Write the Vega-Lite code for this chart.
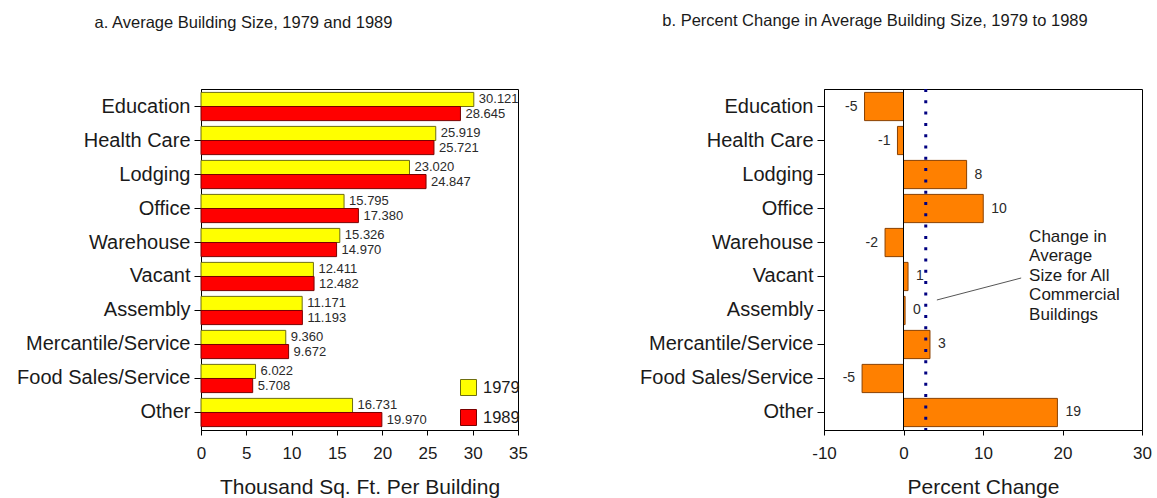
{
  "$schema": "https://vega.github.io/schema/vega-lite/v6.json",
  "padding": {"left": 16, "top": 12, "right": 0, "bottom": 0},
  "spacing": 111,
  "datasets": {
    "sizes": [
      {"cat": "Education", "year": "1979", "value": 30.121},
      {"cat": "Education", "year": "1989", "value": 28.645},
      {"cat": "Health Care", "year": "1979", "value": 25.919},
      {"cat": "Health Care", "year": "1989", "value": 25.721},
      {"cat": "Lodging", "year": "1979", "value": 23.020},
      {"cat": "Lodging", "year": "1989", "value": 24.847},
      {"cat": "Office", "year": "1979", "value": 15.795},
      {"cat": "Office", "year": "1989", "value": 17.380},
      {"cat": "Warehouse", "year": "1979", "value": 15.326},
      {"cat": "Warehouse", "year": "1989", "value": 14.970},
      {"cat": "Vacant", "year": "1979", "value": 12.411},
      {"cat": "Vacant", "year": "1989", "value": 12.482},
      {"cat": "Assembly", "year": "1979", "value": 11.171},
      {"cat": "Assembly", "year": "1989", "value": 11.193},
      {"cat": "Mercantile/Service", "year": "1979", "value": 9.360},
      {"cat": "Mercantile/Service", "year": "1989", "value": 9.672},
      {"cat": "Food Sales/Service", "year": "1979", "value": 6.022},
      {"cat": "Food Sales/Service", "year": "1989", "value": 5.708},
      {"cat": "Other", "year": "1979", "value": 16.731},
      {"cat": "Other", "year": "1989", "value": 19.970}
    ],
    "changes": [
      {"cat": "Education", "change": -4.9},
      {"cat": "Health Care", "change": -0.76},
      {"cat": "Lodging", "change": 7.94},
      {"cat": "Office", "change": 10.03},
      {"cat": "Warehouse", "change": -2.32},
      {"cat": "Vacant", "change": 0.57},
      {"cat": "Assembly", "change": 0.2},
      {"cat": "Mercantile/Service", "change": 3.33},
      {"cat": "Food Sales/Service", "change": -5.21},
      {"cat": "Other", "change": 19.36}
    ],
    "refs": [{"zero": 0, "allchange": 2.8}],
    "note": [{"x": 15.8, "cat": "Warehouse", "note": "Change in\nAverage\nSize for All\nCommercial\nBuildings"}],
    "leader": [{"x": 4.2, "x2": 14.8, "cat": "Assembly", "cat2": "Vacant"}]
  },
  "config": {
    "locale": {"number": {"decimal": ".", "thousands": ",", "grouping": [3], "currency": ["$", ""], "minus": "-"}},
    "view": {"stroke": "black", "strokeWidth": 1},
    "font": "Liberation Sans",
    "axis": {"domainColor": "black", "tickColor": "black", "labelColor": "#1a1a1a", "titleColor": "#1a1a1a", "labelFont": "Liberation Sans", "titleFont": "Liberation Sans", "grid": false, "titleFontWeight": "normal"},
    "axisX": {"tickSize": 5, "labelFontSize": 17, "labelPadding": 10, "titleFontSize": 21, "titlePadding": 15, "labelFlush": false},
    "axisY": {"tickSize": 7, "labelFontSize": 20, "labelPadding": 4, "title": null},
    "title": {"font": "Liberation Sans", "fontSize": 16.5, "fontWeight": "normal", "color": "#1a1a1a"},
    "legend": {"orient": "none", "legendX": 259, "legendY": 290, "title": null, "symbolType": "square", "symbolSize": 256, "labelFontSize": 16.5, "labelFont": "Liberation Sans", "labelColor": "#1a1a1a", "rowPadding": 9, "symbolStrokeWidth": 1, "padding": 0, "labelOffset": 6}
  },
  "hconcat": [
    {
      "width": 317,
      "height": 341,
      "title": {"text": "a. Average Building Size, 1979 and 1989", "anchor": "middle", "frame": "group", "dx": -116, "offset": 58},
      "data": {"name": "sizes"},
      "encoding": {
        "y": {"field": "cat", "type": "nominal", "sort": ["Education", "Health Care", "Lodging", "Office", "Warehouse", "Vacant", "Assembly", "Mercantile/Service", "Food Sales/Service", "Other"], "scale": {"paddingInner": 0.17, "paddingOuter": 0.1}},
        "yOffset": {"field": "year", "type": "nominal", "scale": {"paddingInner": 0, "paddingOuter": 0}},
        "x": {"field": "value", "type": "quantitative", "title": "Thousand Sq. Ft. Per Building", "scale": {"domain": [0, 35], "nice": false}, "axis": {"values": [0, 5, 10, 15, 20, 25, 30, 35]}}
      },
      "layer": [
        {
          "mark": {"type": "bar", "strokeWidth": 1},
          "encoding": {
            "color": {"field": "year", "type": "nominal", "scale": {"domain": ["1979", "1989"], "range": ["#ffff00", "#ff0000"]}},
            "stroke": {"field": "year", "type": "nominal", "scale": {"domain": ["1979", "1989"], "range": ["#6e6e10", "#7a0000"]}}
          }
        },
        {
          "mark": {"type": "text", "align": "left", "baseline": "middle", "dx": 5, "fontSize": 13, "color": "#2a2a2a"},
          "encoding": {"text": {"field": "value", "type": "quantitative", "format": ".3f"}}
        }
      ]
    },
    {
      "width": 318,
      "height": 341,
      "title": {"text": "b. Percent Change in Average Building Size, 1979 to 1989", "anchor": "middle", "frame": "group", "dx": -108, "offset": 58},
      "layer": [
        {
          "data": {"name": "changes"},
          "mark": {"type": "bar", "color": "#ff8000", "stroke": "#8a4000", "strokeWidth": 1},
          "encoding": {
            "y": {"field": "cat", "type": "nominal", "sort": ["Education", "Health Care", "Lodging", "Office", "Warehouse", "Vacant", "Assembly", "Mercantile/Service", "Food Sales/Service", "Other"], "scale": {"paddingInner": 0.17, "paddingOuter": 0.1}},
            "x": {"field": "change", "type": "quantitative", "title": "Percent Change", "scale": {"domain": [-10, 30], "nice": false}, "axis": {"values": [-10, 0, 10, 20, 30]}}
          }
        },
        {
          "data": {"name": "changes"},
          "transform": [{"filter": "datum.change >= 0"}],
          "mark": {"type": "text", "align": "left", "baseline": "middle", "dx": 8, "fontSize": 14, "color": "#2a2a2a"},
          "encoding": {
            "y": {"field": "cat", "type": "nominal", "sort": ["Education", "Health Care", "Lodging", "Office", "Warehouse", "Vacant", "Assembly", "Mercantile/Service", "Food Sales/Service", "Other"]},
            "x": {"field": "change", "type": "quantitative"},
            "text": {"field": "change", "type": "quantitative", "format": ".0f"}
          }
        },
        {
          "data": {"name": "changes"},
          "transform": [{"filter": "datum.change < 0"}],
          "mark": {"type": "text", "align": "right", "baseline": "middle", "dx": -7, "fontSize": 14, "color": "#2a2a2a"},
          "encoding": {
            "y": {"field": "cat", "type": "nominal", "sort": ["Education", "Health Care", "Lodging", "Office", "Warehouse", "Vacant", "Assembly", "Mercantile/Service", "Food Sales/Service", "Other"]},
            "x": {"field": "change", "type": "quantitative"},
            "text": {"field": "change", "type": "quantitative", "format": ".0f"}
          }
        },
        {
          "data": {"name": "refs"},
          "mark": {"type": "rule", "color": "black", "strokeWidth": 1},
          "encoding": {"x": {"field": "zero", "type": "quantitative"}}
        },
        {
          "data": {"name": "refs"},
          "mark": {"type": "rule", "color": "#000080", "strokeWidth": 3, "strokeDash": [3, 8.3]},
          "encoding": {"x": {"field": "allchange", "type": "quantitative"}}
        },
        {
          "data": {"name": "leader"},
          "mark": {"type": "rule", "color": "#555555", "strokeWidth": 1, "yOffset": -10.5, "y2Offset": 1.5},
          "encoding": {
            "x": {"field": "x", "type": "quantitative"},
            "x2": {"field": "x2"},
            "y": {"field": "cat", "type": "nominal", "sort": ["Education", "Health Care", "Lodging", "Office", "Warehouse", "Vacant", "Assembly", "Mercantile/Service", "Food Sales/Service", "Other"]},
            "y2": {"field": "cat2"}
          }
        },
        {
          "data": {"name": "note"},
          "mark": {"type": "text", "align": "left", "baseline": "middle", "dy": -6, "fontSize": 17, "lineHeight": 19.5, "lineBreak": "\n", "color": "#1a1a1a"},
          "encoding": {
            "x": {"field": "x", "type": "quantitative"},
            "y": {"field": "cat", "type": "nominal", "sort": ["Education", "Health Care", "Lodging", "Office", "Warehouse", "Vacant", "Assembly", "Mercantile/Service", "Food Sales/Service", "Other"]},
            "text": {"field": "note"}
          }
        }
      ]
    }
  ]
}
